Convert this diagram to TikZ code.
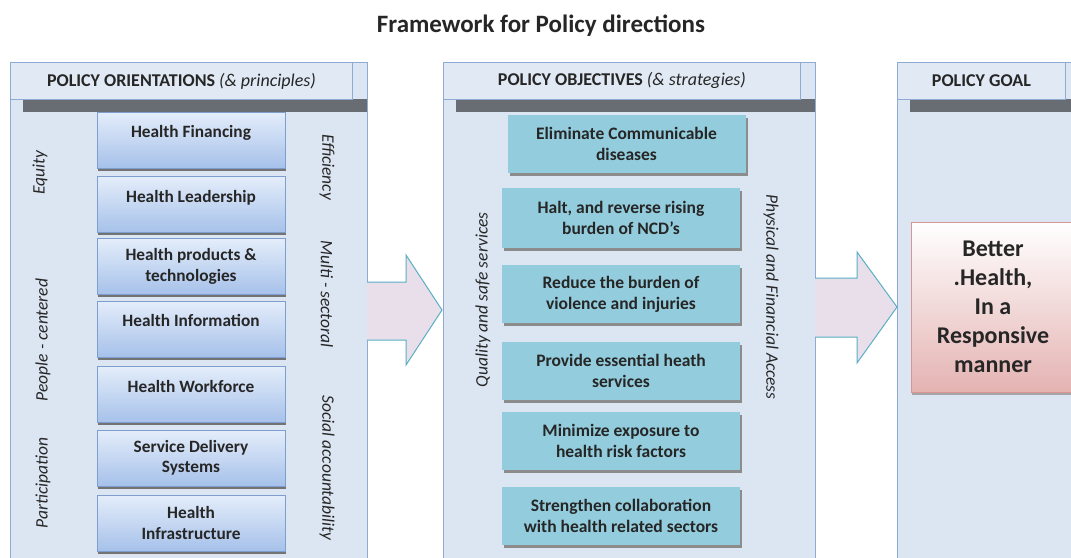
\documentclass[tikz,border=0pt]{standalone}
\usepackage{fontspec}
\setmainfont{Carlito}
\usetikzlibrary{shadows}

\definecolor{panelfill}{HTML}{DCE6F2}
\definecolor{headfill}{HTML}{E0E9F4}
\definecolor{panelline}{HTML}{8FAAD3}
\definecolor{barcol}{HTML}{686C73}
\definecolor{bluetop}{HTML}{E4EDFA}
\definecolor{bluebot}{HTML}{A6C1EA}
\definecolor{blueline}{HTML}{7F9ED0}
\definecolor{tealfill}{HTML}{93CDDD}
\definecolor{arrowfill}{HTML}{E8DFEA}
\definecolor{arrowline}{HTML}{5AAFC4}
\definecolor{goaltop}{HTML}{FFFFFF}
\definecolor{goalbot}{HTML}{E4B3B2}
\definecolor{goalline}{HTML}{D89593}
\definecolor{txt}{HTML}{262626}

\begin{document}
\begin{tikzpicture}[x=1pt,y=-1pt,
  panel/.style={draw=panelline,fill=panelfill,line width=0.9pt},
  header/.style={draw=panelline,fill=headfill,line width=0.9pt,anchor=north west,
    minimum height=37,text=txt,font=\fontsize{18}{21}\selectfont},
  hbox/.style={draw=blueline,top color=bluetop,bottom color=bluebot,line width=0.7pt,
    minimum width=188,minimum height=56,align=center,text=txt,
    font=\fontsize{17.3}{20.5}\selectfont\bfseries,
    general shadow={shadow xshift=0.8pt,shadow yshift=-2.5pt,fill=black!55}},
  onerow/.style={text height=12pt,text depth=17pt},
  obox/.style={fill=tealfill,minimum width=238,minimum height=58,align=center,text=txt,
    font=\fontsize{17.5}{21}\selectfont\bfseries,
    general shadow={shadow xshift=2pt,shadow yshift=-2.5pt,fill=black!45}},
  side/.style={text=txt,font=\fontsize{17.5}{20}\selectfont\itshape},
  blockarrow/.style={draw=arrowline,fill=arrowfill,line width=1pt,line join=miter}]
\useasboundingbox (0,0) rectangle (1071,557);
\fill[white] (0,0) rectangle (1071,557);

% Title
\node[text=txt,font=\fontsize{25}{29}\selectfont\bfseries] (title) at (541,26) {Framework for Policy directions};

% Panels
\draw[panel] (10,62) rectangle (367,562);
\fill[barcol] (23,99) rectangle (367,112);
\node[header,minimum width=342] (h1) at (10,62) {\textbf{POLICY ORIENTATIONS} \textit{(\& principles)}};

\draw[panel] (443,62) rectangle (815,562);
\fill[barcol] (456,99) rectangle (815,112);
\node[header,minimum width=357] (h2) at (443,62) {\textbf{POLICY OBJECTIVES} \textit{(\& strategies)}};

\draw[panel] (897,62) rectangle (1080,562);
\fill[barcol] (910,99) rectangle (1080,112);
\node[header,minimum width=168] (h3) at (897,62) {\textbf{POLICY GOAL}};

% Block arrows
\draw[blockarrow] (367,282) -- (406,282) -- (406,255) -- (442,310) -- (406,365) -- (406,340) -- (367,340);
\draw[blockarrow] (815,278) -- (857,278) -- (857,252) -- (897,307) -- (857,363) -- (857,337) -- (815,337);

% Orientations
\node[hbox,onerow] (b1) at (191,140) {Health Financing};
\node[hbox,onerow] (b2) at (191,204.5) {Health Leadership};
\node[hbox] (b3) at (191,266.5) {Health products \&\\technologies};
\node[hbox,onerow] (b4) at (191,329) {Health Information};
\node[hbox,onerow] (b5) at (191,394.5) {Health Workforce};
\node[hbox] (b6) at (191,458) {Service Delivery\\Systems};
\node[hbox] (b7) at (191,523) {Health\\Infrastructure};

% Principles
\node[side,rotate=90] (equity) at (40,173) {Equity};
\node[side,rotate=90] (people) at (43,340) {People - centered};
\node[side,rotate=90] (partic) at (43,483) {Participation};
\node[side,rotate=-90] (effic) at (327,167) {Efficiency};
\node[side,rotate=-90] (multi) at (327,294) {Multi - sectoral};
\node[side,rotate=-90] (social) at (327,468) {Social accountability};

% Objectives
\node[obox] (o1) at (626.5,144) {Eliminate Communicable\\diseases};
\node[obox,minimum height=60] (o2) at (621,218) {Halt, and reverse rising\\burden of NCD's};
\node[obox] (o3) at (621,294) {Reduce the burden of\\violence and injuries};
\node[obox] (o4) at (621,371) {Provide essential heath\\services};
\node[obox] (o5) at (621,441) {Minimize exposure to\\health risk factors};
\node[obox] (o6) at (621,516) {Strengthen collaboration\\with health related sectors};

% Strategies
\node[side,rotate=90] (quality) at (483,300) {Quality and safe services};
\node[side,rotate=-90] (access) at (771,297) {Physical and Financial Access};

% Goal
\node[draw=goalline,top color=goaltop,bottom color=goalbot,line width=0.9pt,
  minimum width=164,minimum height=170,align=center,text=txt,
  font=\fontsize{24}{29}\selectfont\bfseries,
  general shadow={shadow xshift=1pt,shadow yshift=-2.5pt,fill=black!35}] (goal) at (993,307)
  {Better\\.Health,\\In a\\Responsive\\manner};
\end{tikzpicture}
\end{document}
